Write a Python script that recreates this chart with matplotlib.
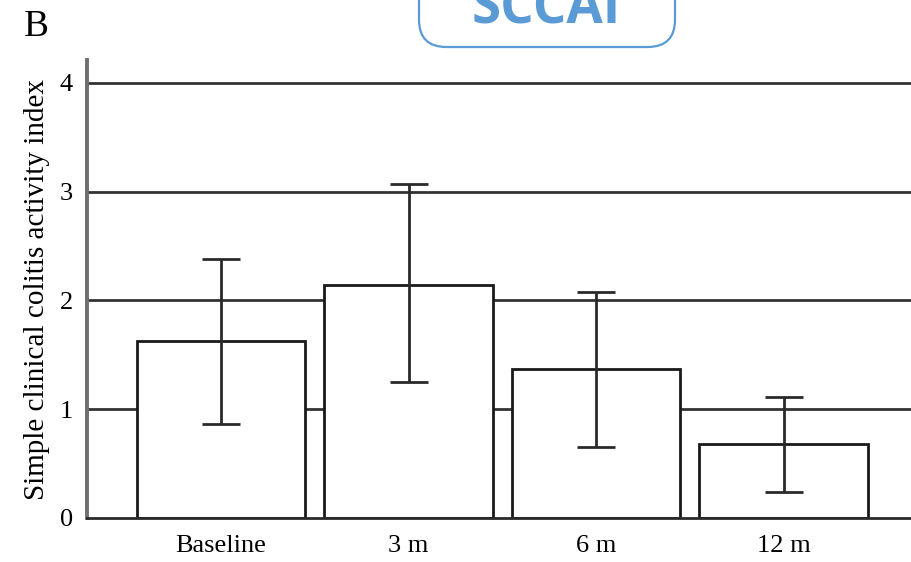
import matplotlib.pyplot as plt
from matplotlib.patches import FancyBboxPatch
import numpy as np

# SCCAI por visita (media y barras de error)
visitas = ['Baseline', '3 m', '6 m', '12 m']
media = [1.63, 2.14, 1.37, 0.68]
err_sup = [2.38, 3.07, 2.08, 1.11]
err_inf = [0.86, 1.25, 0.65, 0.24]
y_ticks = [0, 1, 2, 3, 4]

plt.rcParams['font.family'] = ['Liberation Serif', 'DejaVu Serif']

fig = plt.figure(figsize=(9.12, 5.62), dpi=100)
ax = fig.add_axes([87 / 912, 1 - 518 / 562, 1 - 87 / 912, (518 - 60) / 562])

x = np.arange(len(visitas))
media = np.array(media)
yerr = [media - np.array(err_inf), np.array(err_sup) - media]

# lineas horizontales detras de las barras
for v in y_ticks[1:]:
    ax.axhline(v, color='#333333', lw=2.0, zorder=1)

ax.bar(x, media, width=0.9, color='white', edgecolor='#1a1a1a', lw=2.0, zorder=2)
ax.errorbar(x, media, yerr=yerr, fmt='none', ecolor='#2a2a2a', elinewidth=2.0,
            capsize=14, capthick=2.0, zorder=3)

ax.set_xlim(-0.715, 3.685)
ax.set_ylim(0, 4.21)
ax.set_yticks(y_ticks)
ax.set_xticks(x)
ax.set_xticklabels(visitas, fontsize=19)
ax.tick_params(axis='y', length=0, pad=10, labelsize=19)
ax.tick_params(axis='x', length=0, pad=12)
ax.set_ylabel('Simple clinical colitis activity index', fontsize=21, labelpad=7)

for s in ['top', 'right']:
    ax.spines[s].set_visible(False)
ax.spines['left'].set_color('#6e6e6e')
ax.spines['left'].set_linewidth(2.8)
ax.spines['bottom'].set_color('#2a2a2a')
ax.spines['bottom'].set_linewidth(2.0)

fig.text(24 / 912, 1 - 36 / 562, 'B', fontsize=27, ha='left', va='baseline')

# recuadro del titulo (cortado arriba)
caja = FancyBboxPatch((419 / 912, 1 - 47 / 562), 256 / 912, 80 / 562,
                      boxstyle='round,pad=0,rounding_size=0.03',
                      transform=fig.transFigure, facecolor='white',
                      edgecolor='#5b9bd5', lw=1.6, mutation_aspect=912 / 562)
fig.add_artist(caja)
fig.text(546 / 912, 1 - 24 / 562, 'SCCAI', fontsize=38, fontweight='bold',
         color='#5b9bd5', family='Open Sans', ha='center', va='baseline')

fig.savefig('out.png', dpi=100)
